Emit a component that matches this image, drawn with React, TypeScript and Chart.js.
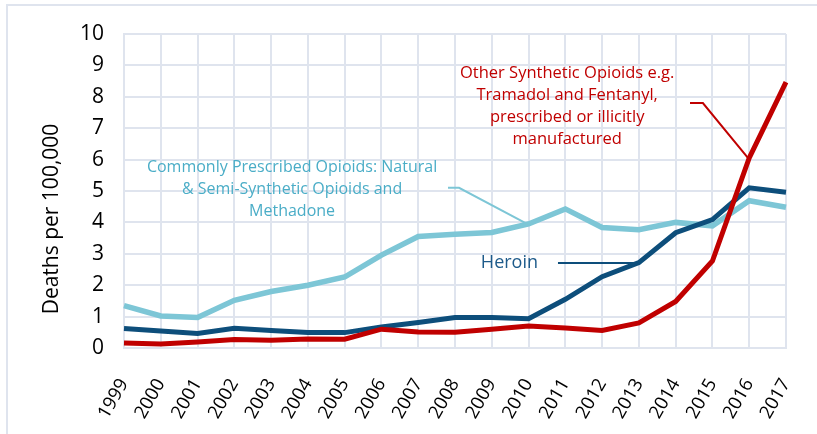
import React, { useEffect, useRef } from "react";
import { Chart, registerables } from "chart.js";

Chart.register(...registerables);

const years = ["1999","2000","2001","2002","2003","2004","2005","2006","2007","2008","2009","2010","2011","2012","2013","2014","2015","2016","2017"];
const prescribed = [1.35,1.02,0.97,1.52,1.8,2.0,2.26,2.96,3.55,3.62,3.68,3.95,4.43,3.84,3.77,4.0,3.89,4.69,4.48];
const heroin = [0.62,0.54,0.46,0.63,0.56,0.49,0.49,0.67,0.81,0.97,0.97,0.93,1.55,2.27,2.72,3.67,4.09,5.1,4.96];
const synthetic = [0.16,0.13,0.19,0.27,0.25,0.29,0.28,0.6,0.51,0.5,0.6,0.7,0.64,0.56,0.8,1.48,2.77,6.05,8.47];
const yMin = 0;
const yMax = 10;
const yStep = 1;

const syntheticLabel = ["Other Synthetic Opioids e.g.", "Tramadol and Fentanyl,", "prescribed or illicitly", "manufactured"];
const prescribedLabel = ["Commonly Prescribed Opioids: Natural", "& Semi-Synthetic Opioids and", "Methadone"];
const heroinLabel = ["Heroin"];
const yTitle = "Deaths per 100,000";

const FONT = "'Open Sans', 'Noto Sans', sans-serif";
const C_LIGHT = "#7dc6d6";
const C_LIGHT_TEXT = "#4aadc7";
const C_DARK = "#0d4e7b";
const C_DARK_TEXT = "#1d5a8a";
const C_RED = "#c00000";
const C_GRID = "#dfe4ee";

// annotations in data coordinates: [categoryIndex, value]
const annotations = [
  { lines: syntheticLabel, color: C_RED, size: 16.5, cx: 12.05, cy: [8.76, 8.06, 7.36, 6.66], leader: [[15.39, 7.8], [15.74, 7.8], [16.97, 6.05]] },
  { lines: prescribedLabel, color: C_LIGHT_TEXT, size: 16, cx: 4.57, cy: [5.76, 5.06, 4.36], leader: [[8.81, 5.1], [9.11, 5.1], [10.96, 3.95]], leaderColor: C_LIGHT },
  { lines: heroinLabel, color: C_DARK_TEXT, size: 18, cx: 10.48, cy: [2.7], leader: [[11.8, 2.71], [13.95, 2.71]], leaderColor: C_DARK },
];

const annotationPlugin = {
  id: "annots",
  beforeDraw(chart: any) {
    const ctx = chart.ctx;
    ctx.save();
    ctx.strokeStyle = C_GRID;
    ctx.lineWidth = 2;
    ctx.beginPath();
    ctx.moveTo(7, 434);
    ctx.lineTo(7, 5);
    ctx.lineTo(817, 5);
    ctx.stroke();
    ctx.restore();
  },
  afterDatasetsDraw(chart: any) {
    const ctx = chart.ctx;
    const xs = chart.scales.x;
    const ys = chart.scales.y;
    const px = (i: number) => xs.left + (xs.right - xs.left) * (i / (years.length - 1));
    ctx.save();
    for (const a of annotations) {
      ctx.strokeStyle = (a as any).leaderColor || a.color;
      ctx.lineWidth = 2;
      ctx.beginPath();
      a.leader.forEach((p: number[], k: number) => {
        const x = px(p[0]);
        const y = ys.getPixelForValue(p[1]);
        if (k === 0) ctx.moveTo(x, y); else ctx.lineTo(x, y);
      });
      ctx.stroke();
      ctx.fillStyle = a.color;
      ctx.font = `${a.size}px ${FONT}`;
      ctx.textAlign = "center";
      ctx.textBaseline = "middle";
      a.lines.forEach((t: string, k: number) => {
        ctx.fillText(t, px(a.cx), ys.getPixelForValue(a.cy[k]));
      });
    }
    // y title
    ctx.translate(52, 219);
    ctx.rotate(-Math.PI / 2);
    ctx.fillStyle = "#000";
    ctx.font = `21px ${FONT}`;
    ctx.textAlign = "center";
    ctx.textBaseline = "middle";
    ctx.fillText(yTitle, 0, 0);
    ctx.restore();
  },
};

export default function App() {
  const ref = useRef<HTMLCanvasElement>(null);
  useEffect(() => {
    document.body.style.margin = "0";
    const chart = new Chart(ref.current!, {
      type: "line",
      data: {
        labels: years,
        datasets: [
          { label: "Other Synthetic Opioids", data: synthetic, borderColor: C_RED, borderWidth: 5, pointRadius: 0, tension: 0 },
          { label: "Heroin", data: heroin, borderColor: C_DARK, borderWidth: 5, pointRadius: 0, tension: 0 },
          { label: "Commonly Prescribed Opioids", data: prescribed, borderColor: C_LIGHT, borderWidth: 5.5, pointRadius: 0, tension: 0 },
        ],
      },
      options: {
        animation: false,
        responsive: false,
        layout: { padding: { left: 0, right: 31, top: 34, bottom: 0 } },
        plugins: { legend: { display: false }, tooltip: { enabled: false } },
        scales: {
          x: {
            offset: false,
            grid: { color: C_GRID, lineWidth: 2, drawTicks: false },
            border: { color: C_GRID, width: 2 },
            ticks: { color: "#000", font: { family: FONT, size: 18.5 }, minRotation: 60, maxRotation: 60, padding: 27, autoSkip: false },
            afterFit: (s: any) => { s.height = 86; s.paddingLeft = 0; s.paddingRight = 0; },
          },
          y: {
            min: yMin,
            max: yMax,
            grid: { color: C_GRID, lineWidth: 2, drawTicks: false },
            border: { color: C_GRID, width: 2 },
            ticks: { stepSize: yStep, color: "#000", font: { family: FONT, size: 21 }, padding: 20 },
            afterFit: (s: any) => { s.width = 124; s.paddingTop = 0; s.paddingBottom = 0; },
          },
        },
      },
      plugins: [annotationPlugin],
    });
    return () => chart.destroy();
  }, []);
  return (
    <div style={{ width: 817, height: 434, background: "#fff" }}>
      <canvas ref={ref} width={817} height={434} />
    </div>
  );
}
